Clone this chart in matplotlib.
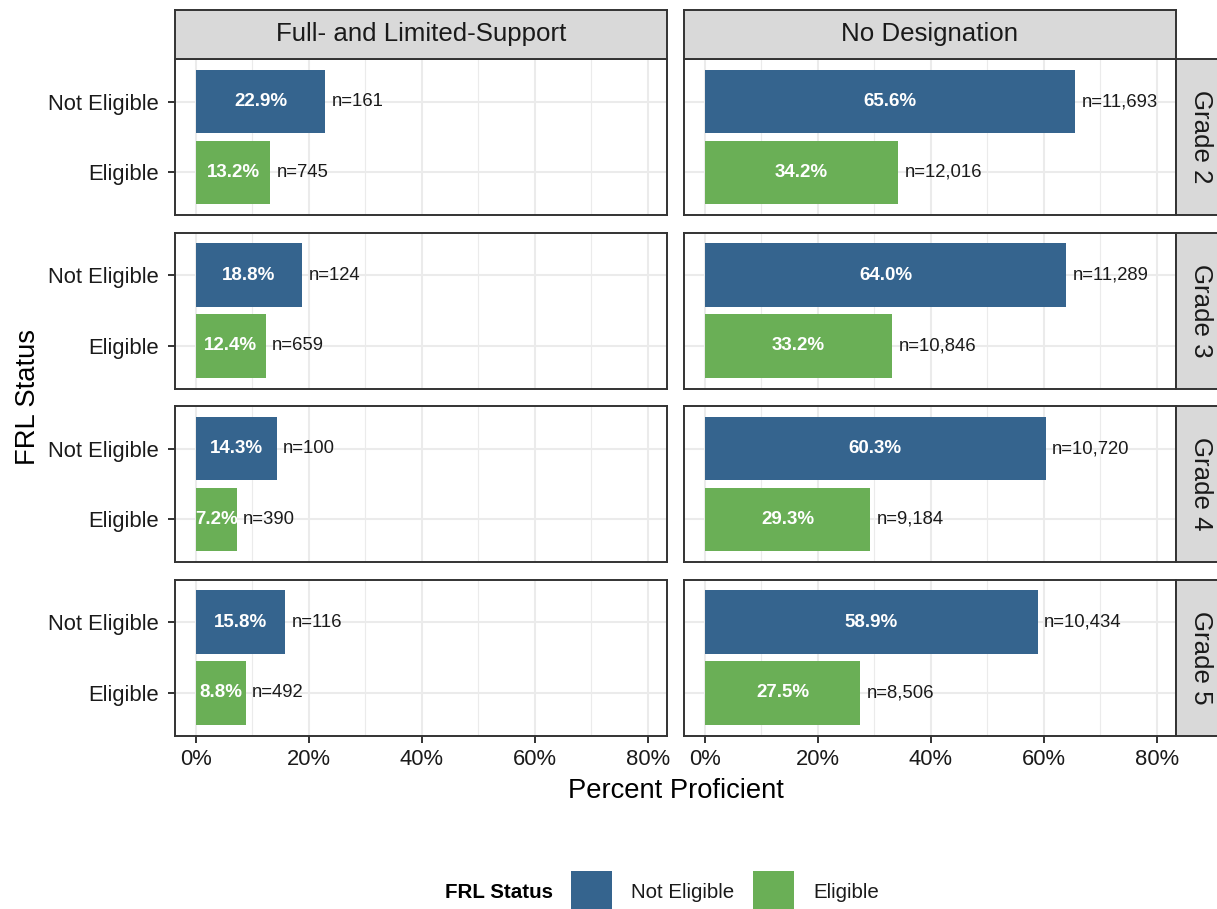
import matplotlib
matplotlib.use("Agg")
import matplotlib.pyplot as plt
from matplotlib.patches import Rectangle

# Data
grades = ["Grade 2", "Grade 3", "Grade 4", "Grade 5"]
designations = ["Full- and Limited-Support", "No Designation"]
frl_levels = ["Not Eligible", "Eligible"]

fl_not_pct = [22.9, 18.8, 14.3, 15.8]
fl_elig_pct = [13.2, 12.4, 7.2, 8.8]
fl_not_n = [161, 124, 100, 116]
fl_elig_n = [745, 659, 390, 492]

nd_not_pct = [65.6, 64.0, 60.3, 58.9]
nd_elig_pct = [34.2, 33.2, 29.3, 27.5]
nd_not_n = [11693, 11289, 10720, 10434]
nd_elig_n = [12016, 10846, 9184, 8506]

x_breaks = [0, 20, 40, 60, 80]
x_minor = [10, 30, 50, 70]

# Styling
BLUE = "#35648E"
GREEN = "#6AAF56"
STRIP = "#D9D9D9"
BORDER = "#333333"
GRID = "#EBEBEB"
TEXT = "#1A1A1A"
FONT = "Liberation Sans"

W, H = 1217, 909
fig = plt.figure(figsize=(W / 100, H / 100), dpi=100)
fig.patch.set_facecolor("white")


def px_axes(left, top, width, height):
    return fig.add_axes([left / W, 1 - (top + height) / H, width / W, height / H])


col_left = [175, 684]
col_width = 492
row_top = [59, 232.5, 406, 579.5]
row_height = 156

pct_cols = [(fl_not_pct, fl_elig_pct), (nd_not_pct, nd_elig_pct)]
n_cols = [(fl_not_n, fl_elig_n), (nd_not_n, nd_elig_n)]
y_pos = [2, 1]  # Not Eligible on top

for j in range(2):
    for i in range(4):
        ax = px_axes(col_left[j], row_top[i], col_width, row_height)
        ax.set_xlim(-3.7, 83.4)
        ax.set_ylim(0.4, 2.6)
        ax.set_axisbelow(True)
        for xm in x_minor:
            ax.axvline(xm, color=GRID, lw=0.8, zorder=0)
        for xb in x_breaks:
            ax.axvline(xb, color=GRID, lw=1.5, zorder=0)
        for yb in y_pos:
            ax.axhline(yb, color=GRID, lw=1.5, zorder=0)

        vals = [pct_cols[j][0][i], pct_cols[j][1][i]]
        ns = [n_cols[j][0][i], n_cols[j][1][i]]
        ax.barh(y_pos, vals, height=0.9, color=[BLUE, GREEN], zorder=2)
        for y, v, n in zip(y_pos, vals, ns):
            ax.text(v / 2, y, f"{v:.1f}%", ha="center", va="center",
                    color="white", fontweight="bold", fontsize=13.5,
                    family=FONT, zorder=3)
            ax.text(v + 1.1, y, f"n={n:,}", ha="left", va="center",
                    color=TEXT, fontsize=13.3, family=FONT, zorder=3)

        for s in ax.spines.values():
            s.set_color(BORDER)
            s.set_linewidth(1.4)

        ax.set_xticks(x_breaks)
        ax.set_yticks(y_pos)
        ax.tick_params(length=5, width=1.4, color=BORDER, labelsize=15.8,
                       labelcolor=TEXT, pad=5)
        if i == 3:
            ax.set_xticklabels([f"{b}%" for b in x_breaks], family=FONT)
        else:
            ax.tick_params(axis="x", length=0, labelbottom=False)
        if j == 0:
            ax.set_yticklabels(frl_levels, family=FONT)
            ax.tick_params(axis="y", pad=6.5)
        else:
            ax.tick_params(axis="y", length=0, labelleft=False)

        # right-hand strip for the grade
        if j == 1:
            sax = px_axes(1176, row_top[i], 49, row_height)
            sax.set_facecolor(STRIP)
            sax.set_xticks([])
            sax.set_yticks([])
            for s in sax.spines.values():
                s.set_color(BORDER)
                s.set_linewidth(1.4)
            sax.text(0.5, 0.5, grades[i], rotation=-90, ha="center",
                     va="center", fontsize=18.6, color=TEXT, family=FONT,
                     transform=sax.transAxes)

    # top strip for the designation
    tax = px_axes(col_left[j], 9.5, col_width, 49)
    tax.set_facecolor(STRIP)
    tax.set_xticks([])
    tax.set_yticks([])
    for s in tax.spines.values():
        s.set_color(BORDER)
        s.set_linewidth(1.4)
    tax.text(0.5, 0.5, designations[j], ha="center", va="center",
             fontsize=18.6, color=TEXT, family=FONT, transform=tax.transAxes)

# axis titles
fig.text(675.5 / W, 1 - 791 / H, "Percent Proficient", ha="center",
         va="center", fontsize=19.7, color="black", family=FONT)
fig.text(28 / W, 1 - 397 / H, "FRL Status", ha="center", va="center",
         rotation=90, fontsize=19.7, color="black", family=FONT)

# legend at the bottom
lax = fig.add_axes([0, 0, 1, 1], zorder=-1)
lax.set_xlim(0, W)
lax.set_ylim(H, 0)
lax.axis("off")
lax.text(445, 892, "FRL Status", ha="left", va="center", fontsize=14.8,
         fontweight="bold", color="black", family=FONT)
key_x = [571, 753]
for kx, lab, colr in zip(key_x, frl_levels, [BLUE, GREEN]):
    lax.add_patch(Rectangle((kx, 871), 41, 41, facecolor=colr,
                            edgecolor="none"))
    lax.text(kx + 60, 892, lab, ha="left", va="center", fontsize=14.8,
             color=TEXT, family=FONT)

fig.savefig("out.png", dpi=100, facecolor="white")
